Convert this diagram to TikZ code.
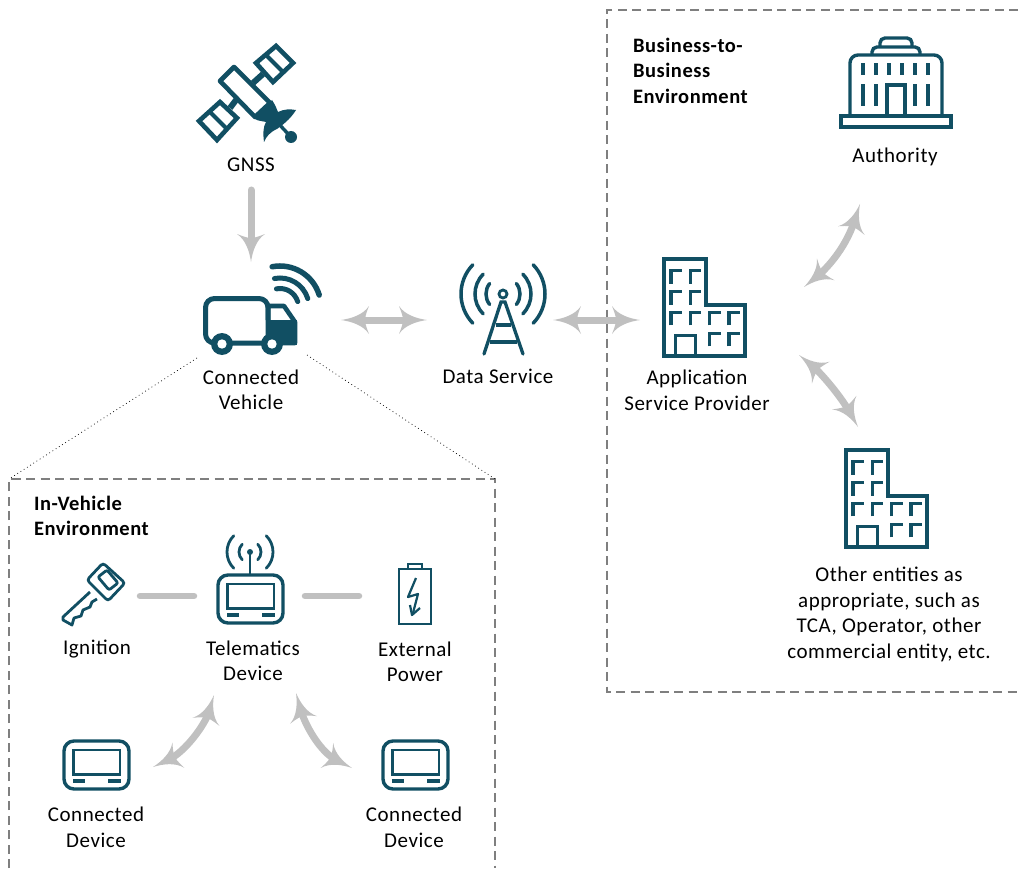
\documentclass[tikz,border=0pt]{standalone}
\usepackage{fontspec}
\setmainfont[LetterSpace=2.5]{Carlito}
\usetikzlibrary{arrows.meta}
\definecolor{teal}{HTML}{114F63}
\definecolor{flow}{HTML}{C0C0C0}
\definecolor{boxline}{HTML}{7F7F7F}
\pgfdeclarearrow{
  name=Swoop,
  setup code={
    \pgfarrowssettipend{0pt}
    \pgfarrowssetbackend{-28pt}
    \pgfarrowssetvisualbackend{-24pt}
    \pgfarrowssetlineend{-17pt}
  },
  drawing code={
    \pgfpathmoveto{\pgfpoint{0pt}{0pt}}
    \pgfpathcurveto{\pgfpoint{-10pt}{1.4pt}}{\pgfpoint{-22pt}{5pt}}{\pgfpoint{-28pt}{14pt}}
    \pgfpathcurveto{\pgfpoint{-26pt}{9pt}}{\pgfpoint{-25pt}{6pt}}{\pgfpoint{-24.5pt}{3.8pt}}
    \pgfpathlineto{\pgfpoint{-24.5pt}{-3.8pt}}
    \pgfpathcurveto{\pgfpoint{-25pt}{-6pt}}{\pgfpoint{-26pt}{-9pt}}{\pgfpoint{-28pt}{-14pt}}
    \pgfpathcurveto{\pgfpoint{-22pt}{-5pt}}{\pgfpoint{-10pt}{-1.4pt}}{\pgfpoint{0pt}{0pt}}
    \pgfpathclose
    \pgfusepathqfill
  }
}
\tikzset{
  x=1pt,y=-1pt,
  lbl/.style={font=\fontsize{21}{25.8}\selectfont,align=center,inner sep=0pt,text=black,yshift=-1.8pt},
  ttl/.style={font=\fontsize{20.5}{25.8}\selectfont\bfseries,align=left,inner sep=0pt,anchor=west,text=black,yshift=-1.8pt},
  flowline/.style={draw=flow,line width=7pt,line cap=round},
  both/.style={flowline,{Swoop}-{Swoop}},
  one/.style={flowline,-{Swoop}},
  envbox/.style={draw=boxline,line width=1.2pt,dash pattern=on 9pt off 5.5pt},
  zoomline/.style={draw=black,line width=.7pt,dash pattern=on .8pt off 3pt},
  ico/.style={draw=teal,line width=3.4pt,fill=none},
  icothin/.style={draw=teal,line width=2.8pt,fill=none},
  building/.pic={
    \draw[ico,line width=3.6pt,miter limit=4] (0,0) -- (42,0) -- (42,46) -- (81,46) -- (81,97) -- (0,97) -- cycle;
    \foreach \cx/\cy in {7/11.7,26.3/11.7,7/32.7,26.3/32.7,7/53.3,26.3/53.3,45.6/53.3,65/53.3,45.6/74.3,65/74.3}
      \draw[ico,line width=3.4pt] (\cx,\cy+13) -- (\cx,\cy) -- (\cx+11,\cy);
    \draw[ico] (11.3,97) -- (11.3,76.7) -- (31.3,76.7) -- (31.3,97);
  },
  device/.pic={
    \draw[ico,rounded corners=10pt] (0,0) rectangle (65,48);
    \draw[icothin] (9.5,9) rectangle (56,33.5);
    \fill[teal] (9,38) rectangle (21,42);
    \fill[teal] (44,38) rectangle (57,42);
  }
}
\begin{document}
\begin{tikzpicture}
\useasboundingbox (0,0) rectangle (1018,872);
\fill[white] (0,0) rectangle (1018,872);

% environment frames
\draw[envbox] (1018,10) -- (607,10) -- (607,692) -- (1018,692);
\draw[envbox] (9,868) -- (9,479) -- (495,479) -- (495,868);
\coordinate (zoomL) at (197,358);
\coordinate (zoomR) at (307,355);
\coordinate (boxL) at (9,479);
\coordinate (boxR) at (495,479);
\draw[zoomline] (zoomL) -- (boxL);
\draw[zoomline] (zoomR) -- (boxR);

% satellite
\draw[ico,line width=4.6pt,line join=round] (220,81) -- (234,67) -- (270,103) -- (255,117) -- cycle;
\draw[ico,line width=4.6pt] (256,63) -- (276,46) -- (293,63) -- (273,82) -- cycle;
\draw[ico,line width=4.6pt] (199,121) -- (220,102) -- (237,118) -- (217,140) -- cycle;
\draw[ico,line width=4pt] (265,54) -- (284,73);
\draw[ico,line width=4pt] (209,111) -- (228,130);
\draw[ico,line width=6pt] (263,74) -- (253,83);
\draw[ico,line width=6pt] (236,100) -- (230,108);
\fill[teal] (272,100) .. controls (276,106) and (277,110) .. (278,112)
  .. controls (284,109) and (290,109) .. (296,110)
  .. controls (290,120) and (281,126) .. (277,129)
  .. controls (270,132) and (266,137) .. (264,142)
  .. controls (263,134) and (263,127) .. (266,122)
  .. controls (262,121) and (258,121) .. (255,119) -- cycle;
\draw[ico] (277,122) -- (291,137);
\fill[teal] (291,137) circle[radius=6];

% truck
\draw[ico,line width=5pt,rounded corners=9pt] (268,343) -- (205.5,343) -- (205.5,298.5) -- (268,298.5) -- (268,320);
\draw[ico,line width=4.6pt,line join=round] (268,306) -- (284,306) -- (295,322) -- (295,343) -- (268,343) -- cycle;
\fill[teal] (268,320) -- (297,320) -- (297,345) -- (268,345) -- cycle;
\foreach \wx in {222,272}{
  \fill[teal] (\wx,344) circle[radius=11];
  \fill[white] (\wx,344) circle[radius=4.7];
}
\foreach \r/\w in {41/5.5,29/5,18.5/5}
  \draw[draw=teal,line width=\w pt,line cap=round] (280,307) ++(17:\r pt) arc[start angle=17,end angle=101,radius=\r pt];

% tower
\draw[ico,line width=3.3pt,line cap=round] (484,354) -- (501,302) -- (505,302) -- (523,354);
\draw[ico,line width=3.3pt] (496,325) -- (511,325);
\draw[ico,line width=3.3pt] (490,342) -- (517,342);
\draw[ico,line width=2.8pt] (503,294) circle[radius=4];
\foreach \r/\a in {17/38,28/45,42/44}{
  \draw[ico,line width=3.5pt,line cap=round] (503,294) ++(-\a:\r pt) arc[start angle=-\a,end angle=\a,radius=\r pt];
  \draw[ico,line width=3.5pt,line cap=round] (503,294) ++(180-\a:\r pt) arc[start angle=180-\a,end angle=180+\a,radius=\r pt];
}

% buildings
\pic at (664,259) {building};
\pic at (846,450) {building};

% authority
\draw[ico] (841,116) rectangle (951,127);
\draw[ico,rounded corners=8pt] (850,116) -- (850,55) -- (942,55) -- (942,116);
\draw[ico,rounded corners=5pt] (872,55) -- (872,47) -- (920,47) -- (920,55);
\draw[ico,rounded corners=5pt] (880,47) -- (880,38) -- (912,38) -- (912,47);
\foreach \bx in {863,876,889,902,915,928}
  \fill[teal] (\bx-2,63) rectangle (\bx+2,75);
\foreach \bx in {863,876,915,928}
  \fill[teal] (\bx-2,84) rectangle (\bx+2,106);
\draw[ico] (887,116) -- (887,85) -- (905,85) -- (905,116);

% key
\draw[icothin,rounded corners=3pt] (103,563) -- (125,583) -- (108,601) -- (87,580) -- cycle;
\draw[icothin,rounded corners=2pt] (98,577) -- (107,570) -- (118,583) -- (109,590) -- cycle;
\draw[icothin,line join=round] (90,592) -- (63,617) -- (63,620) -- (72,625) -- (74,618) -- (81,616) -- (83,610) -- (90,607) -- (92,602) -- (97,599);

% telematics
\pic at (218,575) {device};
\draw[icothin] (250,575) -- (250,553);
\fill[teal] (250,552) circle[radius=3];
\foreach \r in {11,23}{
  \draw[icothin,line cap=round] (250,552) ++(-45:\r pt) arc[start angle=-45,end angle=45,radius=\r pt];
  \draw[icothin,line cap=round] (250,552) ++(135:\r pt) arc[start angle=135,end angle=225,radius=\r pt];
}

% battery
\draw[icothin] (399,569) rectangle (431,624);
\draw[icothin] (408,569) -- (408,564) -- (422,564) -- (422,569);
\draw[draw=teal,line width=2.2pt,line join=round] (416,578) -- (408,597) -- (418,594) -- (413,613);
\draw[draw=teal,line width=2.2pt,line join=round] (410,605) -- (412,615) -- (420,608);

% connected devices
\pic at (64,741) {device};
\pic at (383,741) {device};

% labels
\node[lbl] (gnss) at (251,165) {\strut GNSS\strut};
\node[lbl] (vehicle) at (251,390) {\strut Connected\\Vehicle\strut};
\node[lbl] (data) at (498,377) {\strut Data Service\strut};
\node[lbl] (asp) at (697,390.5) {\strut Application\\Service Provider\strut};
\node[lbl] (auth) at (895,156) {\strut Authority\strut};
\node[lbl] (other) at (889,613) {\strut Other entities as\\appropriate, such as\\TCA, Operator, other\\commercial entity, etc.\strut};
\node[ttl] (b2b) at (633,71) {\strut Business-to-\\Business\\Environment\strut};
\node[ttl] (inv) at (34,516) {\strut In-Vehicle\\Environment\strut};
\node[lbl] (ign) at (97,648) {\strut Ignition\strut};
\node[lbl] (tele) at (253,661) {\strut Telematics\\Device\strut};
\node[lbl] (ext) at (415,662) {\strut External\\Power\strut};
\node[lbl] (cd1) at (96,827.5) {\strut Connected\\Device\strut};
\node[lbl] (cd2) at (414,827.5) {\strut Connected\\Device\strut};

% connector end points
\coordinate (gnssOut) at (251,190);
\coordinate (truckIn) at (251,262);
\coordinate (truckE) at (341,320);
\coordinate (dataW) at (427,320);
\coordinate (dataE) at (553,320);
\coordinate (aspW) at (640,320);
\coordinate (aspNE) at (804,287);
\coordinate (authS) at (860,204);
\coordinate (aspSE) at (799,355);
\coordinate (otherN) at (858,427);
\coordinate (ignE) at (140,596);
\coordinate (teleW) at (194,596);
\coordinate (teleE) at (305,596);
\coordinate (powW) at (359,596);
\coordinate (cd1NE) at (153,767);
\coordinate (teleSW) at (214,695);
\coordinate (teleSE) at (296,693);
\coordinate (cd2NW) at (352,768);

% connectors
\draw[one] (gnssOut) -- (truckIn);
\draw[both] (truckE) -- (dataW);
\draw[both] (dataE) -- (aspW);
\draw[both] (aspNE) .. controls (825,270) and (845,250) .. (authS);
\draw[both] (aspSE) .. controls (820,372) and (840,395) .. (otherN);
\draw[flowline,line width=6.5pt] (ignE) -- (teleW);
\draw[flowline,line width=6.5pt] (teleE) -- (powW);
\draw[both] (cd1NE) .. controls (185,752) and (205,725) .. (teleSW);
\draw[both] (teleSE) .. controls (305,725) and (320,752) .. (cd2NW);
\end{tikzpicture}
\end{document}
